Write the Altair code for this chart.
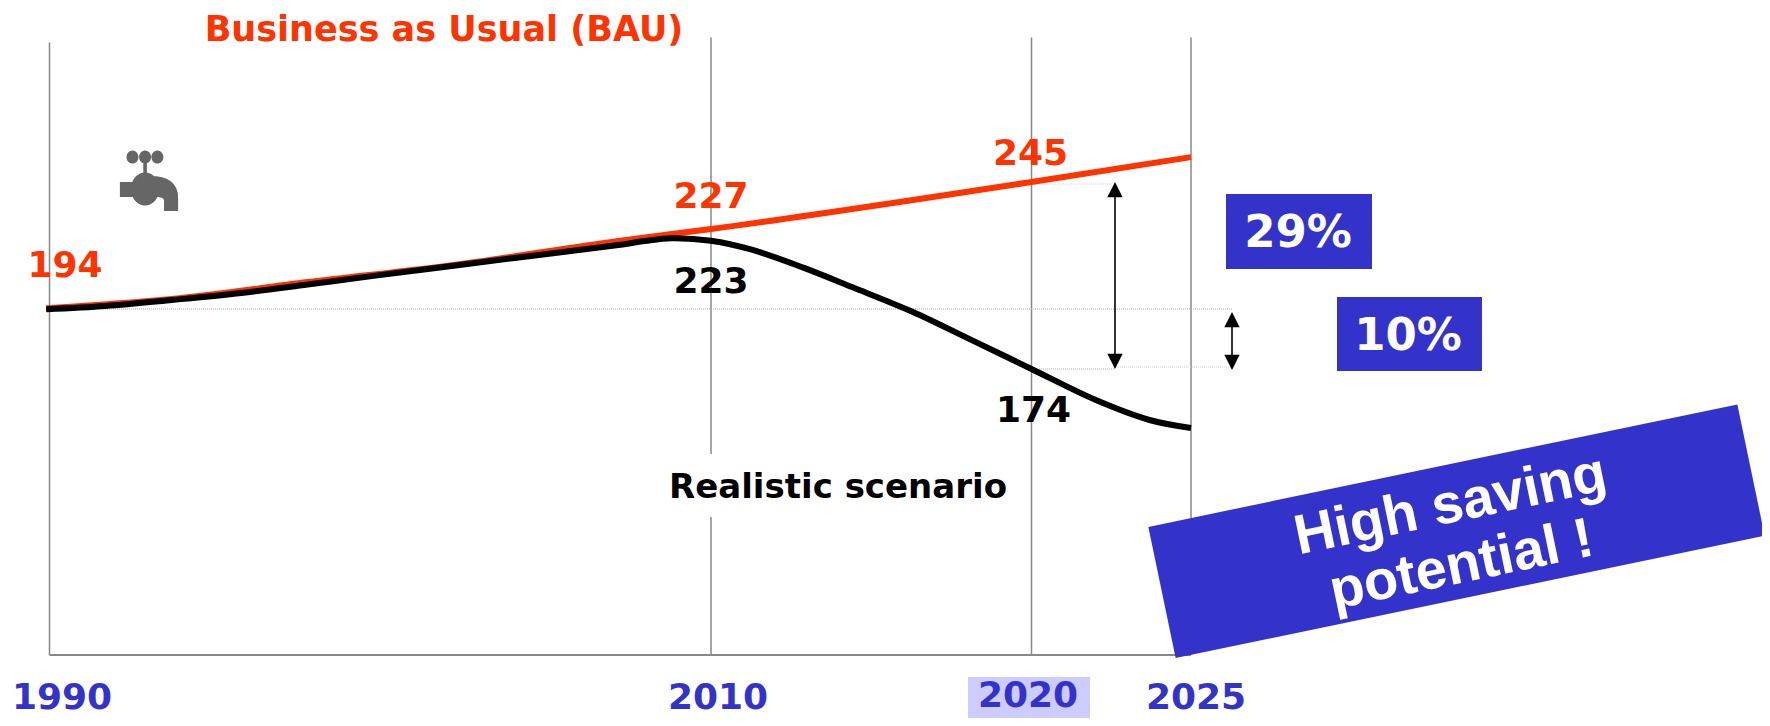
import altair as alt
import pandas as pd

# ---- data ----
grid_years = [1990, 2010, 2020, 2025]
tick_labels = ["1990", "2010", "2020", "2025"]

bau_years = [1989.9, 1993.7, 1997.8, 2002.4, 2007.2, 2010, 2020, 2025]
bau_values = [194.3, 198.0, 204.8, 212.0, 221.3, 226.1, 245.0, 255.0]

real_years = [1989.9, 1991.7, 1993.7, 1995.8, 1997.8, 1999.8, 2002.4, 2004.8, 2007.2, 2008, 2008.8, 2010,
              2011.3, 2012.9, 2014.4, 2016.3, 2018.2, 2020, 2022, 2023.7, 2025]
real_values = [193.9, 195.2, 197.6, 200.4, 203.8, 207.3, 211.7, 215.7, 219.7, 221.3, 222.4, 221.4,
               217.7, 210.5, 202.8, 192.8, 181.1, 169.9, 157.5, 149.4, 146.2]

AXIS_FLOOR = 55
GRID_TOP = 303

W, H = 1754, 710
BLUE = "#3333cc"
RED = "#ff3300"
GRAY = "#888888"
FONT = "DejaVu Sans"

x_scale = alt.Scale(domain=grid_years, range=[41.5, 703, 1023.5, 1183], nice=False, zero=False)
y_scale = alt.Scale(domain=[29.7, 314.9], range=[H, 0], nice=False, zero=False)
X = alt.X("x:Q", scale=x_scale, axis=None)
Y = alt.Y("y:Q", scale=y_scale, axis=None)
X2 = alt.X2("x2:Q")
Y2 = alt.Y2("y2:Q")
dummy = pd.DataFrame({"a": [0]})


def val(v):
    return alt.value(v - 8)  # page margin


def rect(x0, x1, y0, y1, color):
    return alt.Chart(dummy).mark_rect(color=color).encode(
        x=val(x0), x2=val(x1), y=val(y0), y2=val(y1))


def hline(x0, x1, y, color, width=1.0, dash=(1, 1)):
    return alt.Chart(dummy).mark_rule(color=color, strokeWidth=width, strokeDash=list(dash)).encode(
        x=val(x0), x2=val(x1), y=val(y))


def arrow(x, y0, y1):
    tri_up = "M-1,1L0,-1L1,1Z"
    tri_dn = "M-1,-1L0,1L1,-1Z"
    line = alt.Chart(dummy).mark_rule(color="black", strokeWidth=1.6).encode(
        x=val(x), y=val(y0 + 6), y2=val(y1 - 6))
    top = alt.Chart(dummy).mark_point(shape=tri_up, filled=True, color="black", size=235, opacity=1).encode(
        x=val(x), y=val(y0 + 7.7))
    bot = alt.Chart(dummy).mark_point(shape=tri_dn, filled=True, color="black", size=235, opacity=1).encode(
        x=val(x), y=val(y1 - 7.7))
    return line + top + bot


def data_label(text, year, value, color, dx, dy, size=36):
    return alt.Chart(pd.DataFrame({"x": [year], "y": [value], "t": [text]})).mark_text(
        font=FONT, fontWeight="bold", fontSize=size, color=color, dx=dx, dy=dy,
        baseline="alphabetic", align="center").encode(x=X, y=Y, text="t:N")


def free_label(text, x, y, color, size, font=FONT, weight="bold", angle=None):
    kw = {} if angle is None else {"angle": angle}
    return alt.Chart(pd.DataFrame({"t": [text]})).mark_text(
        font=font, fontWeight=weight, fontSize=size, color=color,
        baseline="alphabetic", align="center", **kw).encode(x=val(x), y=val(y), text="t:N")


def tick_label(text, year, dx, y):
    return alt.Chart(pd.DataFrame({"x": [year], "t": [text]})).mark_text(
        font=FONT, fontWeight="bold", fontSize=36, color=BLUE, dx=dx,
        baseline="alphabetic", align="center").encode(x=X, y=val(y), text="t:N")


# ---- layers ----
grid = alt.Chart(pd.DataFrame({
    "x": grid_years, "y": [AXIS_FLOOR] * 4, "y2": [301, GRID_TOP, GRID_TOP, GRID_TOP]
})).mark_rule(color=GRAY, strokeWidth=1.5).encode(x=X, y=Y, y2=Y2)

baseline = alt.Chart(pd.DataFrame({"x": [1990], "x2": [2025], "y": [AXIS_FLOOR]})).mark_rule(
    color=GRAY, strokeWidth=2).encode(x=X, x2=X2, y=Y)

bau = alt.Chart(pd.DataFrame({"x": bau_years, "y": bau_values})).mark_line(
    color=RED, strokeWidth=6, interpolate="monotone").encode(x=X, y=Y)
realistic = alt.Chart(pd.DataFrame({"x": real_years, "y": real_values})).mark_line(
    color="black", strokeWidth=6, interpolate="catmull-rom").encode(x=X, y=Y)

# faucet glyph, unit coordinates around its centre
faucet_path = (
    "M-0.75,-0.9a0.2,0.22 0 1,1 0.4,0a0.2,0.22 0 1,1 -0.4,0Z"
    "M-0.33,-0.9a0.2,0.22 0 1,1 0.4,0a0.2,0.22 0 1,1 -0.4,0Z"
    "M0.08,-0.9a0.2,0.22 0 1,1 0.4,0a0.2,0.22 0 1,1 -0.4,0Z"
    "M-0.19,-0.9L-0.07,-0.9L-0.07,-0.25L-0.19,-0.25Z"
    "M-0.6,0.17a0.47,0.55 0 1,1 0.94,0a0.47,0.55 0 1,1 -0.94,0Z"
    "M-0.97,-0.07L-0.5,-0.07L-0.5,0.43L-0.97,0.43Z"
    "M0.03,-0.27Q0.97,-0.27 0.97,0.45L0.97,0.9L0.5,0.9L0.5,0.55Q0.5,0.4 0.03,0.43Z"
)
faucet = alt.Chart(dummy).mark_point(
    shape=faucet_path, filled=True, color="#666666", size=3600, opacity=1
).encode(x=val(149), y=val(184))

banner = alt.Chart(dummy).mark_rule(color=BLUE, strokeWidth=134).encode(
    x=val(1162), x2=val(1751), y=val(592.5), y2=val(470))

layers = [
    grid, baseline,
    hline(49, 1233, 309, "#aaaaaa"),
    hline(1031, 1113, 184, "#ccccff"),
    hline(1031, 1115, 369, "#aaaaaa"),
    hline(1114, 1236, 367, "#ccccff"),
    rect(669, 1008, 454, 517, "white"),
    bau, realistic,
    faucet,
    arrow(1115, 182, 369),
    arrow(1232, 312, 370),
    rect(1226, 1372, 194, 269, BLUE),
    rect(1337, 1482, 297, 371, BLUE),
    banner,
    rect(968, 1090, 677, 726, "#ccccff"),
    free_label("Business as Usual (BAU)", 444, 41, RED, 35),
    data_label("194", 1990, 194, RED, 15.5, -32),
    data_label("227", 2010, 227, RED, 0, -19),
    data_label("245", 2020, 245, RED, -1, -17),
    data_label("223", 2010, 223, "black", 0, 56),
    data_label("174", 2020, 174, "black", 2, 63),
    free_label("Realistic scenario", 838, 498, "black", 34),
    free_label("29%", 1298, 247, "white", 45),
    free_label("10%", 1408, 350, "white", 45),
    free_label("High saving", 1454, 522, "white", 56, font="Liberation Sans", angle=348.2),
    free_label("potential !", 1465, 582, "white", 56, font="Liberation Sans", angle=348.2),
    tick_label(tick_labels[0], 1990, 12.5, 709),
    tick_label(tick_labels[1], 2010, 7, 709),
    tick_label(tick_labels[2], 2020, -3.5, 707),
    tick_label(tick_labels[3], 2025, 5, 709),
]

chart = alt.layer(*layers).properties(
    width=W, height=H, padding=0, autosize=alt.AutoSizeParams(type="none"), background="white"
).configure_view(stroke=None)

chart.save("out.html", embed_options={"renderer": "svg", "actions": False})
